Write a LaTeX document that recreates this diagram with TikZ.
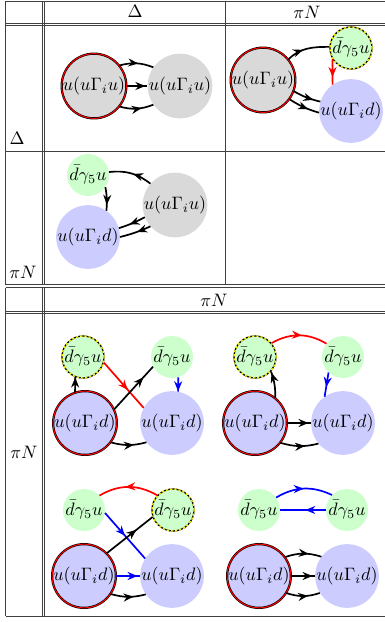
\documentclass[tikz,border=0pt]{standalone}
\usepackage{graphicx}
\usetikzlibrary{arrows.meta,decorations.markings}
\newcommand{\mylab}[1]{\scalebox{1.8}{$#1$}}
\begin{document}
\begin{tikzpicture}[x=1pt,y=1pt,
  lab/.style={font=\fontsize{10}{12}\selectfont, inner sep=0pt},
  base/.style={circle, minimum size=#1, inner sep=0pt, font=\fontsize{10}{12}\selectfont},
  graynode/.style={base=64pt, fill=gray!30},
  bluenode/.style={base=63pt, fill=blue!20},
  greennode/.style={base=42pt, fill=green!20},
  redring/.style={draw=black, double=red, double distance=1pt, line width=0.6pt},
  dashring/.style={draw=black, line width=1.3pt, postaction={draw=yellow, line width=1.3pt, dash pattern=on 2.2pt off 2pt}},
  ed/.style={line width=1.7pt, postaction={decorate}, decoration={markings, mark=at position #1 with {\arrow{Stealth[length=10pt,width=8pt]}}}},
  ed/.default=0.55,
  tl/.style={draw=black!75, line width=0.7pt}
]
\useasboundingbox (0,0) rectangle (385,-622);
% ---------- top table ----------
\draw[tl] (5.5,-1) -- (390,-1);
\draw[tl] (5.5,-1) -- (5.5,-284.5);
\draw[tl] (5.5,-284.5) -- (390,-284.5);
\draw[tl] (42.7,-1) -- (42.7,-284.5);
\draw[tl] (44.7,-1) -- (44.7,-284.5);
\draw[tl] (5.5,-23.7) -- (390,-23.7);
\draw[tl] (5.5,-25.5) -- (390,-25.5);
\draw[tl] (225,-1) -- (225,-284.5);
\draw[tl] (5.5,-151.5) -- (390,-151.5);
\node[lab] (h1) at (135,-11.5) {\mylab{\Delta}};
\node[lab] (h2) at (307,-12.5) {\mylab{\pi N}};
\node[lab] (r1) at (17,-138) {\mylab{\Delta}};
\node[lab] (r2) at (23,-272) {\mylab{\pi N}};
% ---------- bottom table ----------
\draw[tl] (5.5,-287.7) -- (390,-287.7);
\draw[tl] (5.5,-287.7) -- (5.5,-616);
\draw[tl] (5.5,-616) -- (390,-616);
\draw[tl] (42.7,-287.7) -- (42.7,-616);
\draw[tl] (44.7,-287.7) -- (44.7,-616);
\draw[tl] (5.5,-311.3) -- (390,-311.3);
\draw[tl] (5.5,-313.1) -- (390,-313.1);
\node[lab] (h3) at (214,-300) {\mylab{\pi N}};
\node[lab] (r3) at (24,-452) {\mylab{\pi N}};
% ---------- Delta-Delta ----------
\node[graynode, redring] (a1) at (94,-86) {\mylab{u(u\Gamma_i u)}};
\node[graynode] (a2) at (180,-86) {\mylab{u(u\Gamma_i u)}};
\draw[ed=0.55] (a1.39) to[bend left=18] (a2.145);
\draw[ed=0.9] (a1) -- (a2);
\draw[ed=0.65] (a1.-39) to[bend right=18] (a2.-145);
% ---------- Delta-piN ----------
\node[graynode, redring] (b1) at (263,-80) {\mylab{u(u\Gamma_i u)}};
\node[greennode, dashring] (b2) at (351,-48) {\mylab{\bar d\gamma_5 u}};
\node[bluenode] (b3) at (351,-111) {\mylab{u(u\Gamma_i d)}};
\draw[ed=0.4] (b1.39) to[out=45,in=180] (b2.177);
\draw[ed=0.7, red] (b2.211) -- (b3.125.5);
\draw[ed=0.75] (b1.-20) to[bend right=8] (b3.163);
\draw[ed=0.65] (b1.-36) to[bend right=8] (b3.183);
% ---------- piN-Delta ----------
\node[greennode] (c1) at (88,-175) {\mylab{\bar d\gamma_5 u}};
\node[graynode] (c2) at (175,-205) {\mylab{u(u\Gamma_i u)}};
\node[bluenode] (c3) at (88,-237) {\mylab{u(u\Gamma_i d)}};
\draw[ed=0.45] (c2.139) to[bend right=22] (c1.8);
\draw[ed=0.75] (c1.-35) to[bend left=8] (c3.55);
\draw[ed=0.6] (c2.202) to[bend left=5] (c3.16);
\draw[ed=0.45] (c2.221) to[bend left=5] (c3.0);
% ---------- piN-piN (1) ----------
\node[greennode, dashring] (e1g) at (83,-357) {\mylab{\bar d\gamma_5 u}};
\node[greennode] (e1h) at (172,-357) {\mylab{\bar d\gamma_5 u}};
\node[bluenode, redring] (e1r) at (85,-423) {\mylab{u(u\Gamma_i d)}};
\node[bluenode] (e1b) at (172,-423) {\mylab{u(u\Gamma_i d)}};
\draw[ed=0.98] (e1r.108) -- (e1g.-111);
\draw[ed=0.6, red] (e1g.-15) -- (e1b.152);
\draw[ed=0.75] (e1r.25) -- (e1h.207);
\draw[ed=0.98, blue] (e1h.-73) -- (e1b.79);
\draw[ed=0.65] (e1r.-37) to[bend right=15] (e1b.-143);
% ---------- piN-piN (2) ----------
\node[greennode, dashring] (e2g) at (255,-357) {\mylab{\bar d\gamma_5 u}};
\node[greennode] (e2h) at (343,-357) {\mylab{\bar d\gamma_5 u}};
\node[bluenode, redring] (e2r) at (255,-423) {\mylab{u(u\Gamma_i d)}};
\node[bluenode] (e2b) at (343,-423) {\mylab{u(u\Gamma_i d)}};
\draw[ed=0.55, red] (e2g.40) to[bend left=30] (e2h.141);
\draw[ed=0.95] (e2r.51) to[bend right=10] (e2g.-42);
\draw[ed=0.6, blue] (e2h.227) -- (e2b.125);
\draw[ed=0.9] (e2r) -- (e2b);
\draw[ed=0.65] (e2r.-38) to[bend right=15] (e2b.-140);
% ---------- piN-piN (3) ----------
\node[greennode] (e3g) at (84,-510) {\mylab{\bar d\gamma_5 u}};
\node[greennode, dashring] (e3h) at (173,-510) {\mylab{\bar d\gamma_5 u}};
\node[bluenode, redring] (e3r) at (84,-576) {\mylab{u(u\Gamma_i d)}};
\node[bluenode] (e3b) at (172,-576) {\mylab{u(u\Gamma_i d)}};
\draw[ed=0.55, red] (e3h.137) to[bend right=30] (e3g.43);
\draw[ed=0.5, blue] (e3g.-8) -- (e3b.147);
\draw[ed=0.65] (e3r.45) -- (e3h.199);
\draw[ed=0.9, blue] (e3r) -- (e3b);
\draw[ed=0.65] (e3r.-34) to[bend right=15] (e3b.-145);
% ---------- piN-piN (4) ----------
\node[greennode] (e4g) at (259,-510) {\mylab{\bar d\gamma_5 u}};
\node[greennode] (e4h) at (347,-510) {\mylab{\bar d\gamma_5 u}};
\node[bluenode, redring] (e4r) at (259,-576) {\mylab{u(u\Gamma_i d)}};
\node[bluenode] (e4b) at (347,-576) {\mylab{u(u\Gamma_i d)}};
\draw[ed=0.5, blue] (e4g.36) to[bend left=28] (e4h.135);
\draw[ed=0.45, blue] (e4h) -- (e4g);
\draw[ed=0.65] (e4r.36) to[bend left=18] (e4b.143);
\draw[ed=0.9] (e4r) -- (e4b);
\draw[ed=0.65] (e4r.-32) to[bend right=18] (e4b.-148);
\end{tikzpicture}
\end{document}
